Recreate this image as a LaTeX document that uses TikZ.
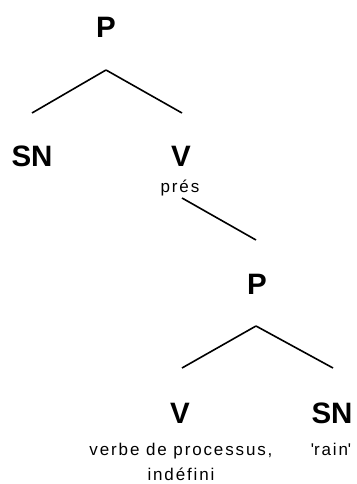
\documentclass[tikz,border=0pt]{standalone}
\usepackage{fontspec}
\setmainfont{Liberation Sans}

\begin{document}
\begin{tikzpicture}[x=1pt,y=-1pt,
	cat/.style={font=\fontsize{29.5}{30}\selectfont\bfseries,anchor=base,inner sep=0pt},
	gloss/.style={font=\fontsize{17}{25}\selectfont\addfontfeature{LetterSpace=11},anchor=base,inner sep=0pt,align=center},
	branch/.style={line width=1.6pt}]
	\useasboundingbox (0,0) rectangle (356,484);
	\def\drop{32pt} % gap under a label

	% upper tree
	\node[cat] (P1) at (106,38) {P};
	\node[cat] (SN1) at (32,166) {SN};
	\node[cat] (V1) at (181,166) {V};
	\node[gloss] (pres) at (180,192) {prés};
	\draw[branch] ([yshift=-\drop]P1.base) -- ([yshift=53pt]SN1.base);
	\draw[branch] ([yshift=-\drop]P1.base) -- ([xshift=1pt,yshift=53pt]V1.base);

	% V -> lower P
	\node[cat] (P2) at (257,294) {P};
	\draw[branch] ([xshift=2pt,yshift=-6pt]pres.base) -- ([xshift=-1pt,yshift=54pt]P2.base);

	% lower tree
	\node[cat] (V2) at (180,423) {V};
	\node[cat] (SN2) at (332,423) {SN};
	\draw[branch] ([xshift=-1pt,yshift=-\drop]P2.base) -- ([xshift=2pt,yshift=55pt]V2.base);
	\draw[branch] ([xshift=-1pt,yshift=-\drop]P2.base) -- ([xshift=1pt,yshift=55pt]SN2.base);
	\node[gloss] (V2g) at (181,480) {verbe de processus,\\indéfini};
	\node[gloss] (SN2g) at (331,455) {\textquotesingle rain\textquotesingle};
\end{tikzpicture}
\end{document}
